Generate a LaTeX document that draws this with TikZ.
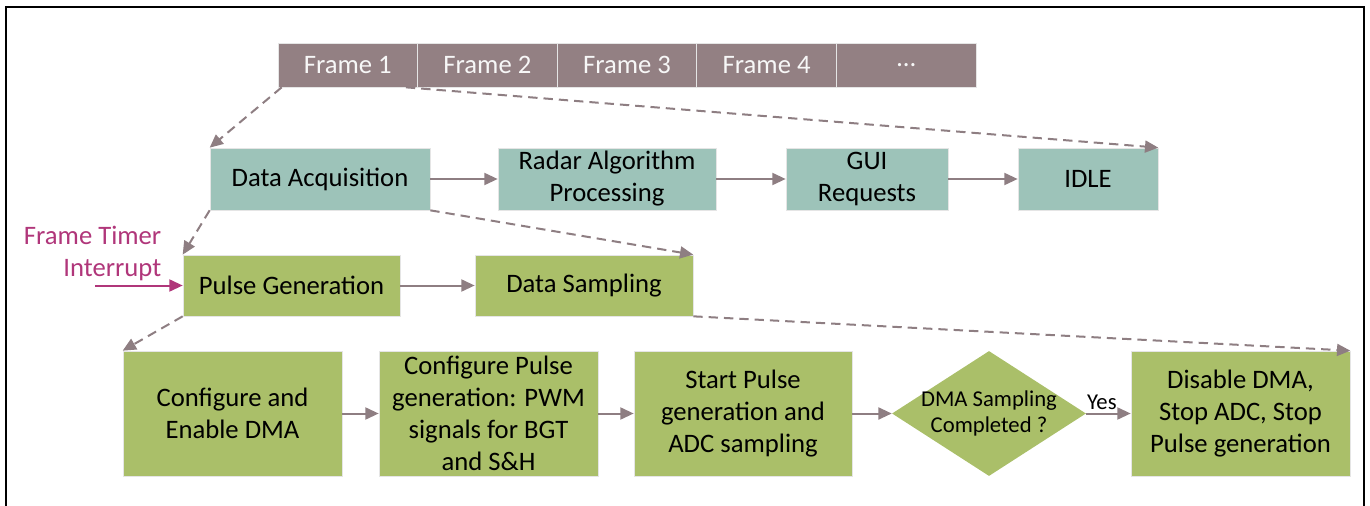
\documentclass[tikz,border=0pt]{standalone}
\usepackage{fontspec}
\setmainfont{Carlito}
\usetikzlibrary{arrows.meta,shapes.geometric}
\definecolor{framegray}{HTML}{938083}
\definecolor{taskteal}{HTML}{9DC3B9}
\definecolor{stagegreen}{HTML}{AABF69}
\definecolor{arrowgray}{HTML}{8E7E82}
\definecolor{irqmagenta}{HTML}{B0367A}
\begin{document}
\begin{tikzpicture}[x=0.75pt,y=-0.75pt,
		box/.style={inner sep=2pt,align=center,font=\fontsize{20}{24}\selectfont,draw=white!80!gray,line width=0.5pt},
		framebox/.style={box,fill=framegray,text=white!94!gray,minimum width=104.7pt,minimum height=33pt},
		task/.style={box,fill=taskteal,minimum height=46.5pt},
		stage/.style={box,fill=stagegreen,minimum height=45.75pt},
		substage/.style={box,fill=stagegreen,minimum width=164.25pt,minimum height=93.75pt},
		flow/.style={draw=arrowgray,line width=1.5pt,-{Triangle[length=10pt,width=9pt]}},
		jump/.style={flow,dash pattern=on 7pt off 4.5pt}]
		\useasboundingbox (0,0) rectangle (1370,506);
		\draw[line width=1.5pt] (6,506) -- (6,7) -- (1364,7) -- (1364,506);
		% Frames
		\foreach \i/\t in {1/Frame 1,2/Frame 2,3/Frame 3,4/Frame 4,5/\ldots}
		\node[framebox] (f\i) at ({278+69.8+139.6*(\i-1)},65) {\t};
		% Main loop
		\node[task,minimum width=165pt] (acq) at (320,179) {Data Acquisition};
		\node[task,minimum width=163.5pt] (algo) at (607,179) {Radar Algorithm\\Processing};
		\node[task,minimum width=121.5pt] (gui) at (867,179) {GUI\\Requests};
		\node[task,minimum width=105pt] (idle) at (1088,179) {IDLE};
		\draw[flow] (acq) -- (algo);
		\draw[flow] (algo) -- (gui);
		\draw[flow] (gui) -- (idle);
		% Data acquisition
		\node[stage,minimum width=162.75pt] (pulse) at (291.5,285.5) {Pulse Generation};
		\node[stage,minimum width=163.5pt] (samp) at (584,285.5) {Data Sampling};
		\draw[flow] (pulse) -- (samp);
		\node[anchor=east,align=right,text=irqmagenta,font=\fontsize{20}{24}\selectfont] (irqtext) at (166,253) {Frame Timer\\Interrupt};
		\coordinate (irq) at (95,285.5);
		\draw[flow,draw=irqmagenta] (irq) -- (pulse);
		% Pulse generation
		\node[substage] (dmacfg) at (232.5,413.5) {Configure and\\Enable DMA};
		\node[substage] (pwm) at (488.5,413.5) {Configure Pulse\\generation: PWM\\signals for BGT\\and S\&H};
		\node[substage,minimum width=163.5pt] (start) at (743,413.5) {Start Pulse\\generation and\\ADC sampling};
		\node[diamond,fill=stagegreen,inner sep=0pt,minimum width=145.5pt,minimum height=93.75pt] (done) at (989,413.5) {};
		\node[align=center,font=\fontsize{17}{20}\selectfont] (donetext) at (done.center) {DMA Sampling\\Completed ?};
		\node[substage] (stop) at (1240.5,413.5) {Disable DMA,\\Stop ADC, Stop\\Pulse generation};
		\draw[flow] (dmacfg) -- (pwm);
		\draw[flow] (pwm) -- (start);
		\draw[flow] (start) -- (done);
		\draw[flow] (done) -- node[pos=0.35,above=-1pt,font=\fontsize{17}{20}\selectfont] {Yes} (stop);
		% Expansions
		\draw[jump] ([xshift=3pt]f1.south west) -- (acq.north west);
		\draw[jump] ([xshift=-9pt]f1.south east) -- (idle.north east);
		\draw[jump] (acq.south west) -- (pulse.north west);
		\draw[jump] (acq.south east) -- (samp.north east);
		\draw[jump] (pulse.south west) -- (dmacfg.north west);
		\draw[jump] (samp.south east) -- (stop.north east);
	\end{tikzpicture}
\end{document}
